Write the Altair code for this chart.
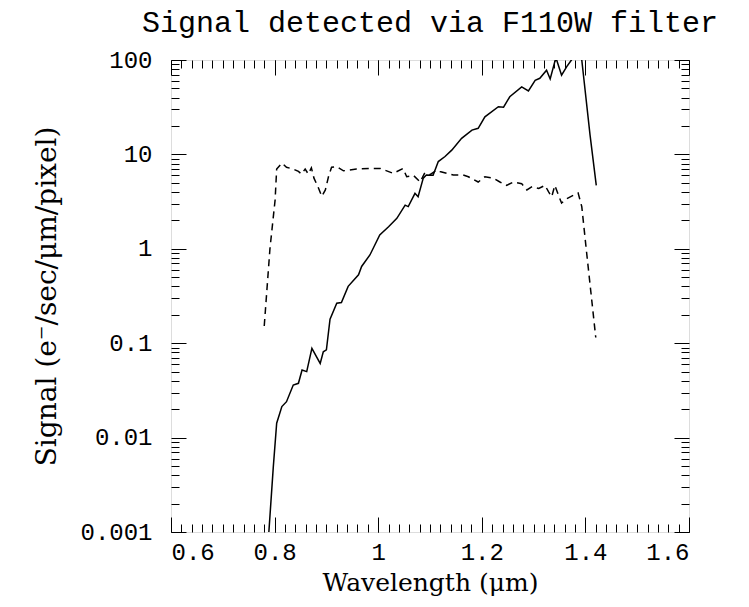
import altair as alt
import pandas as pd

# ---- data ----
wl_solid = [0.787, 0.7975, 0.804, 0.814, 0.823, 0.836, 0.846, 0.853, 0.862, 0.872,
            0.888, 0.894, 0.900, 0.907, 0.920, 0.929, 0.942, 0.962, 0.968, 0.984,
            1.003, 1.020, 1.036, 1.052, 1.058, 1.071, 1.077, 1.087, 1.093, 1.106,
            1.116, 1.129, 1.142, 1.161, 1.181, 1.193, 1.206, 1.232, 1.242, 1.254,
            1.277, 1.290, 1.303, 1.312, 1.325, 1.332, 1.341, 1.344, 1.354, 1.364,
            1.373, 1.383, 1.393, 1.409, 1.421]
sig_solid = [0.0007, 0.0049, 0.0142, 0.0213, 0.024, 0.036, 0.0376, 0.052, 0.050, 0.088,
             0.061, 0.081, 0.085, 0.18, 0.265, 0.27, 0.40, 0.53, 0.65, 0.86,
             1.4, 1.71, 2.1, 2.9, 2.8, 3.87, 3.56, 5.6, 6.05, 6.0,
             8.4, 9.5, 11.1, 14.8, 18.1, 18.9, 25, 32, 31.6, 40.8,
             52, 47, 61, 64, 78, 63, 96, 102, 69, 85,
             100, 130, 100, 16, 4.7]

wl_dash = [0.780, 0.791, 0.801, 0.804, 0.814, 0.823, 0.836, 0.846, 0.852, 0.859,
           0.865, 0.871, 0.876, 0.884, 0.891, 0.898, 0.904, 0.910, 0.920, 0.933,
           0.958, 0.984, 1.004, 1.029, 1.048, 1.055, 1.068, 1.081, 1.090, 1.100,
           1.113, 1.119, 1.145, 1.164, 1.174, 1.193, 1.206, 1.222, 1.235, 1.248,
           1.261, 1.277, 1.287, 1.297, 1.310, 1.322, 1.329, 1.335, 1.341, 1.348,
           1.354, 1.364, 1.377, 1.386, 1.393, 1.402, 1.420]
sig_dash = [0.152, 1.0, 3.3, 7.0, 8.1, 7.3, 7.0, 6.6, 6.2, 7.0,
            6.2, 7.2, 5.6, 4.5, 3.6, 4.2, 5.8, 7.3, 7.4, 6.7,
            7.0, 7.1, 7.1, 6.3, 7.1, 5.8, 6.0, 5.1, 6.4, 6.1,
            6.8, 6.6, 6.05, 6.05, 5.8, 5.1, 5.8, 5.6, 5.1, 4.7,
            5.1, 4.9, 4.2, 4.55, 4.35, 4.7, 4.0, 3.56, 4.7, 3.7,
            3.05, 3.4, 3.7, 3.9, 2.8, 0.95, 0.115]

x_major = [0.6, 0.8, 1.0, 1.2, 1.4, 1.6]
x_minor = [round(0.6 + 0.02 * i, 2) for i in range(51)]
y_major = [0.001, 0.01, 0.1, 1, 10, 100]
y_minor = [m * 10.0 ** e for e in range(-3, 2) for m in range(2, 10)]

W, H = 518, 472

df_s = pd.DataFrame({"wl": wl_solid, "sig": sig_solid})
df_d = pd.DataFrame({"wl": wl_dash, "sig": sig_dash})

xs = alt.Scale(domain=[0.6, 1.6], nice=False, zero=False)
ys = alt.Scale(type="log", domain=[0.001, 100], nice=False)

LBL_FONT = "Liberation Mono"
TTL_FONT = "DejaVu Serif"


def tick_axis(orient, offset, values, size):
    return alt.Axis(orient=orient, offset=offset, values=values, labels=False,
                    domain=False, grid=False, ticks=True, tickSize=size,
                    tickWidth=1, tickColor="black", title=None)


x_lab = alt.Axis(orient="bottom", values=x_major, labelExpr="format(datum.value, '~g')",
                 ticks=False, tickSize=0, domain=False, grid=False,
                 labelFont=LBL_FONT, labelFontSize=24, labelColor="black", labelPadding=8,
                 title="Wavelength (μm)", titleFont=TTL_FONT, titleFontSize=25,
                 titleFontWeight="normal", titleColor="black", titlePadding=6)
y_lab = alt.Axis(orient="left", values=y_major, labelExpr="format(datum.value, '~g')",
                 ticks=False, tickSize=0, domain=False, grid=False,
                 labelFont=LBL_FONT, labelFontSize=24, labelColor="black", labelPadding=19,
                 title="Signal (e⁻/sec/μm/pixel)", titleFont=TTL_FONT, titleFontSize=28,
                 titleFontWeight="normal", titleColor="black", titlePadding=18)

solid = alt.Chart(df_s).mark_line(color="black", strokeWidth=1.5, clip=True).encode(
    x=alt.X("wl:Q", scale=xs, axis=x_lab),
    y=alt.Y("sig:Q", scale=ys, axis=y_lab),
)
dashed = alt.Chart(df_d).mark_line(color="black", strokeWidth=1.5, strokeDash=[7, 5], clip=True).encode(
    x=alt.X("wl:Q", scale=xs, axis=tick_axis("top", -H, x_minor, 8)),
    y=alt.Y("sig:Q", scale=ys, axis=tick_axis("right", -W, y_minor, 8)),
)
inv1 = alt.Chart(df_s).mark_line(strokeOpacity=0, clip=True).encode(
    x=alt.X("wl:Q", scale=xs, axis=tick_axis("top", -H, x_major, 15)),
    y=alt.Y("sig:Q", scale=ys, axis=tick_axis("right", -W, y_major, 15)),
)
inv2 = alt.Chart(df_s).mark_line(strokeOpacity=0, clip=True).encode(
    x=alt.X("wl:Q", scale=xs, axis=tick_axis("bottom", -H, x_minor, 8)),
    y=alt.Y("sig:Q", scale=ys, axis=tick_axis("left", -W, y_minor, 8)),
)
inv3 = alt.Chart(df_s).mark_line(strokeOpacity=0, clip=True).encode(
    x=alt.X("wl:Q", scale=xs, axis=tick_axis("bottom", -H, x_major, 15)),
    y=alt.Y("sig:Q", scale=ys, axis=tick_axis("left", -W, y_major, 15)),
)

chart = alt.layer(solid, dashed, inv1, inv2, inv3).resolve_axis(
    x="independent", y="independent"
).properties(
    width=W, height=H,
    autosize="none",
    padding={"left": 163, "top": 52, "right": 52, "bottom": 67},
    title=alt.TitleParams("Signal detected via F110W filter", font=LBL_FONT, fontSize=30,
                          fontWeight="normal", color="black", anchor="middle", offset=10),
).configure_view(stroke="black", strokeWidth=2).configure(background="white")

chart.save("out.html", embed_options={"renderer": "svg", "actions": False})
